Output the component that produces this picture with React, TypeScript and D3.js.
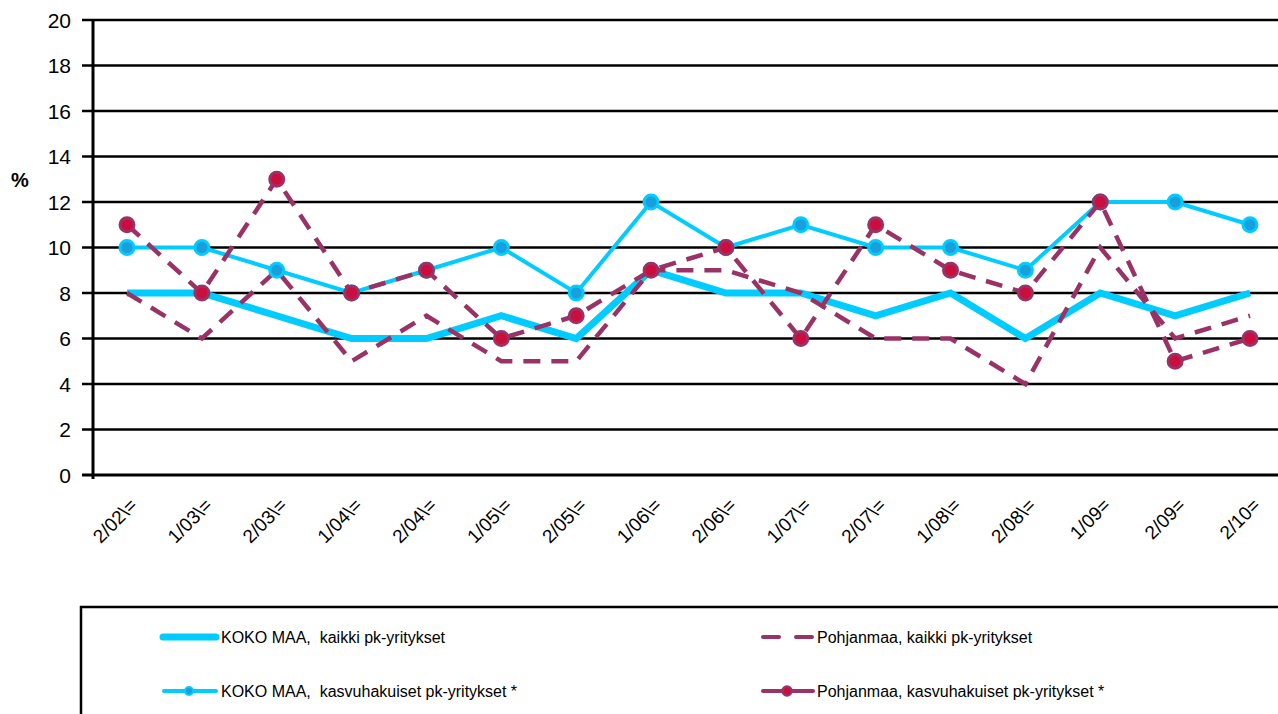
import React from 'react';
import * as d3 from 'd3';

const categories = ['2/02\\=', '1/03\\=', '2/03\\=', '1/04\\=', '2/04\\=', '1/05\\=', '2/05\\=', '1/06\\=', '2/06\\=', '1/07\\=', '2/07\\=', '1/08\\=', '2/08\\=', '1/09=', '2/09=', '2/10='];
const kokoKaikki = [8, 8, 7, 6, 6, 7, 6, 9, 8, 8, 7, 8, 6, 8, 7, 8];
const kokoKasvu = [10, 10, 9, 8, 9, 10, 8, 12, 10, 11, 10, 10, 9, 12, 12, 11];
const pohjKaikki = [8, 6, 9, 5, 7, 5, 5, 9, 9, 8, 6, 6, 4, 10, 6, 7];
const pohjKasvu = [11, 8, 13, 8, 9, 6, 7, 9, 10, 6, 11, 9, 8, 12, 5, 6];
const yTicks = [0, 2, 4, 6, 8, 10, 12, 14, 16, 18, 20];

const CYAN = '#00CCFF';
const CYAN_DOT = '#1A9FDC';
const PLUM = '#993366';
const RED = '#CC0D3D';
const FONT = "'Liberation Sans', Arial, sans-serif";

const W = 1278;
const H = 714;

export default function App() {
  const x = d3.scalePoint<string>().domain(categories).range([127, 1250]);
  const y = d3.scaleLinear().domain([0, 20]).range([475, 20]);
  const line = d3.line<number>().x((_, i) => x(categories[i]) as number).y(d => y(d));

  const marker = (cx: number, cy: number, fill: string, stroke: string, key: string) => (
    <circle key={key} cx={cx} cy={cy} r={7} fill={fill} stroke={stroke} strokeWidth={3} />
  );

  return (
    <svg width={W} height={H} style={{ position: 'absolute', left: 0, top: 0, background: '#fff' }} fontFamily={FONT}>
      {/* grid */}
      {yTicks.map(t => (
        <g key={t}>
          <line x1={82} x2={W} y1={y(t)} y2={y(t)} stroke="#000" strokeWidth={t === 0 ? 3 : 2.5} />
          <text x={71} y={y(t)} dy="0.36em" textAnchor="end" fontSize={21}>{t}</text>
        </g>
      ))}
      <line x1={93} x2={93} y1={y(20)} y2={y(0) + 4} stroke="#000" strokeWidth={3} />
      <text x={20} y={180} dy="0.36em" textAnchor="middle" fontSize={20} fontWeight="bold">%</text>

      {/* x labels */}
      {categories.map(c => (
        <text key={c} transform={`translate(${(x(c) as number) + 2},${497}) rotate(-45)`} textAnchor="end" dy="0.7em" fontSize={19}>{c}</text>
      ))}

      {/* series */}
      <path d={line(kokoKaikki) || ''} fill="none" stroke={CYAN} strokeWidth={7} />
      <path d={line(pohjKaikki) || ''} fill="none" stroke={PLUM} strokeWidth={4.5} strokeDasharray="17,11" />
      <path d={line(kokoKasvu) || ''} fill="none" stroke={CYAN} strokeWidth={4} />
      {kokoKasvu.map((v, i) => marker(x(categories[i]) as number, y(v), CYAN_DOT, CYAN, 'k' + i))}
      <path d={line(pohjKasvu) || ''} fill="none" stroke={PLUM} strokeWidth={4.5} strokeDasharray="17,11" />
      {pohjKasvu.map((v, i) => marker(x(categories[i]) as number, y(v), RED, PLUM, 'p' + i))}

      {/* legend */}
      <rect x={81} y={607} width={W} height={200} fill="none" stroke="#000" strokeWidth={2.5} />
      <g fontSize={16}>
        <line x1={163} x2={216} y1={637} y2={637} stroke={CYAN} strokeWidth={7} strokeLinecap="round" />
        <text x={221} y={637} dy="0.36em" style={{ whiteSpace: 'pre' }}>{'KOKO MAA,  kaikki pk-yritykset'}</text>
        <line x1={164} x2={216} y1={691} y2={691} stroke={CYAN} strokeWidth={4} strokeLinecap="round" />
        <circle cx={189} cy={691} r={4} fill={CYAN_DOT} stroke={CYAN} strokeWidth={2} />
        <text x={221} y={691} dy="0.36em" style={{ whiteSpace: 'pre' }}>{'KOKO MAA,  kasvuhakuiset pk-yritykset *'}</text>
        <line x1={763} x2={813} y1={637} y2={637} stroke={PLUM} strokeWidth={4} strokeLinecap="round" strokeDasharray="16,17" />
        <text x={817} y={637} dy="0.36em">Pohjanmaa, kaikki pk-yritykset</text>
        <line x1={763} x2={813} y1={691} y2={691} stroke={PLUM} strokeWidth={4} strokeLinecap="round" />
        <circle cx={787} cy={691} r={4.5} fill={RED} stroke={PLUM} strokeWidth={2.5} />
        <text x={817} y={691} dy="0.36em">Pohjanmaa, kasvuhakuiset pk-yritykset *</text>
      </g>
    </svg>
  );
}
